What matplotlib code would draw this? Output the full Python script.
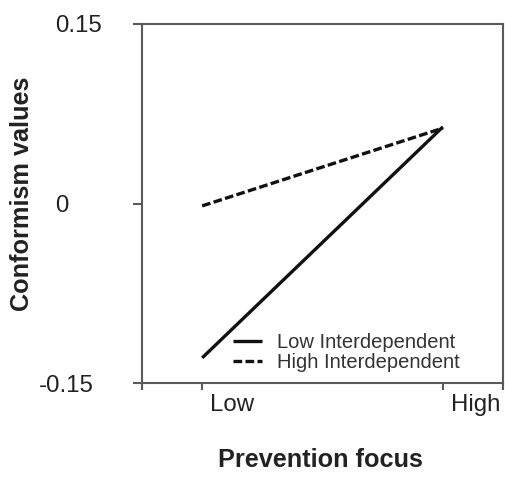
import matplotlib
matplotlib.use("Agg")
import matplotlib.pyplot as plt
from matplotlib.transforms import ScaledTranslation

plt.rcParams['font.family'] = ['Liberation Sans', 'DejaVu Sans']

# Data
x_levels = [0, 1]
x_labels = ["Low", "High"]
series_names = ["Low Interdependent", "High Interdependent"]
low_interdep = [-0.129, 0.064]
high_interdep = [-0.002, 0.063]
y_ticks = [-0.15, 0, 0.15]
y_ticklabels = ["-0.15", "0", "0.15"]

W, H = 505, 478
fig = plt.figure(figsize=(W / 100, H / 100), dpi=100)
ax = fig.add_axes([142 / W, 1 - 383 / H, (503 - 142) / W, (383 - 24) / H])

line_col = "#111111"
ax.plot(x_levels, low_interdep, color=line_col, lw=2.4, solid_capstyle="butt",
        label=series_names[0])
ax.plot(x_levels, high_interdep, color=line_col, lw=2.4, linestyle=(0, (2.6, 1.0)),
        label=series_names[1])

ax.set_xlim(-0.25, 1.25)
ax.set_ylim(-0.15, 0.15)

spine_col = "#5a5a5a"
for s in ax.spines.values():
    s.set_color(spine_col)
    s.set_linewidth(1.5)

# y ticks
ax.set_yticks(y_ticks)
ax.set_yticklabels(y_ticklabels)
ax.tick_params(axis="y", direction="out", length=6.5, width=1.5, color=spine_col,
               pad=56, labelsize=17.3, labelcolor="#222222")
for lab in ax.get_yticklabels():
    lab.set_horizontalalignment("left")
    if lab.get_text().startswith("-"):
        lab.set_transform(lab.get_transform() + ScaledTranslation(-16 / 100, 0, fig.dpi_scale_trans))

# x ticks: ends + levels
ax.set_xticks([-0.25] + x_levels + [1.25])
ax.set_xticklabels([""] + x_labels + [""])
ax.tick_params(axis="x", direction="out", length=5, width=1.5, color=spine_col,
               pad=3, labelsize=17.3, labelcolor="#222222")
for lab in ax.get_xticklabels():
    lab.set_horizontalalignment("left")
    lab.set_transform(lab.get_transform() + ScaledTranslation(8 / 100, 0, fig.dpi_scale_trans))

ax.set_xlabel("Prevention focus", fontsize=18.2, fontweight="bold", color="#222222")
ax.xaxis.set_label_coords((320 - 142) / 361, (383 - 448) / 359)
ax.set_ylabel("Conformism values", fontsize=18.2, fontweight="bold", color="#222222")
ax.yaxis.set_label_coords((34 - 142) / 361, (383 - 194) / 359)

leg = ax.legend(loc="lower left", bbox_to_anchor=((233 - 142) / 361, (383 - 372) / 359),
                frameon=False, fontsize=14.5, borderpad=0, borderaxespad=0,
                handlelength=1.45, handletextpad=0.75, labelspacing=0.05)
for t in leg.get_texts():
    t.set_color("#333333")

fig.savefig("out.png", dpi=100)
